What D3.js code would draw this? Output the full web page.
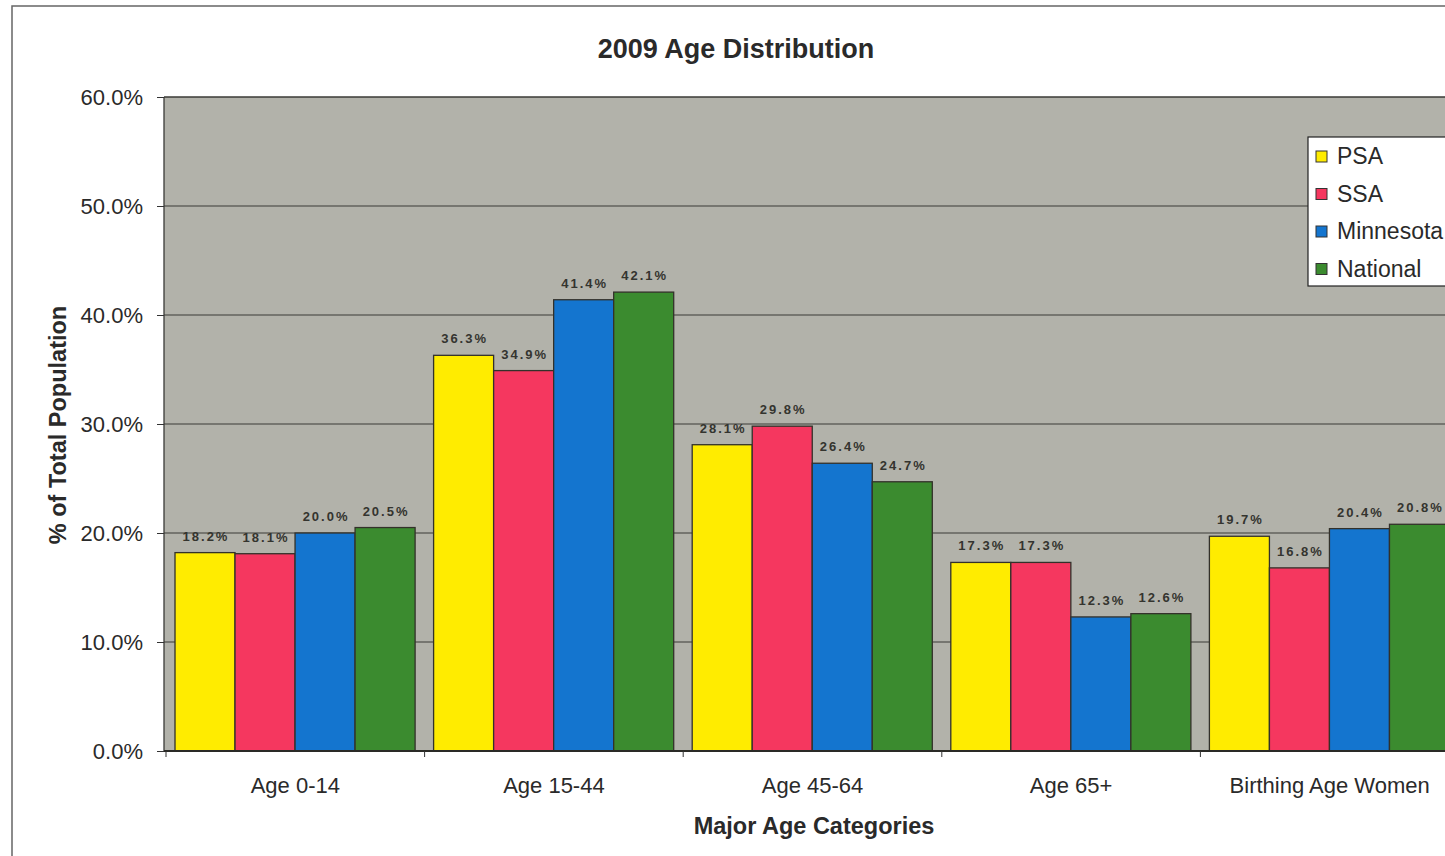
<!DOCTYPE html>
<html>
<head>
<meta charset="utf-8">
<script src="https://cdn.jsdelivr.net/npm/d3@7"></script>
<style>
  body { margin: 0; background: #fff; }
  text { font-family: 'Liberation Sans', Arial, sans-serif; }
</style>
</head>
<body>
<div class="svg"></div>
<script>
const width = 1445
const height = 856

// chart data
const categories = ['Age 0-14', 'Age 15-44', 'Age 45-64', 'Age 65+', 'Birthing Age Women']
const seriesNames = ['PSA', 'SSA', 'Minnesota', 'National']
const psa = [18.2, 36.3, 28.1, 17.3, 19.7]
const ssa = [18.1, 34.9, 29.8, 17.3, 16.8]
const minnesota = [20.0, 41.4, 26.4, 12.3, 20.4]
const national = [20.5, 42.1, 24.7, 12.6, 20.8]
const yTicks = [0, 10, 20, 30, 40, 50, 60]

const colors = ['#ffec00', '#f5375f', '#1475cf', '#3b8b2f']
const series = [psa, ssa, minnesota, national]

const plot = { left: 164, top: 97, right: 1459, bottom: 751 }

const svg = d3
  .select('.svg')
  .append('svg')
  .attr('width', width)
  .attr('height', height)

// outer frame
svg
  .append('rect')
  .attr('x', 12)
  .attr('y', 6)
  .attr('width', width + 20)
  .attr('height', height + 20)
  .attr('fill', '#fff')
  .attr('stroke', '#666')
  .attr('stroke-width', 1.5)

const x0 = d3
  .scaleBand()
  .domain(categories)
  .range([plot.left + 2, plot.right])

const x1 = d3
  .scaleBand()
  .domain(seriesNames)
  .range([9, x0.bandwidth() - 9.5])

const y = d3
  .scaleLinear()
  .domain([0, 60])
  .range([plot.bottom, plot.top])

// plot background
svg
  .append('rect')
  .attr('x', plot.left)
  .attr('y', plot.top)
  .attr('width', plot.right - plot.left)
  .attr('height', plot.bottom - plot.top)
  .attr('fill', '#b2b2aa')

// gridlines
svg
  .append('g')
  .selectAll('line')
  .data(yTicks.slice(1))
  .enter()
  .append('line')
  .attr('x1', plot.left)
  .attr('x2', plot.right)
  .attr('y1', d => y(d))
  .attr('y2', d => y(d))
  .attr('stroke', '#3a3a36')
  .attr('stroke-width', d => (d === 60 ? 1.6 : 1.1))

// left border of plot
svg
  .append('line')
  .attr('x1', plot.left)
  .attr('x2', plot.left)
  .attr('y1', plot.top)
  .attr('y2', plot.bottom)
  .attr('stroke', '#3a3a36')
  .attr('stroke-width', 1.3)

// y axis
const yAxis = d3
  .axisLeft(y)
  .tickValues(yTicks)
  .tickSize(7)
  .tickPadding(14)
  .tickFormat(d => d.toFixed(1) + '%')

const yg = svg
  .append('g')
  .attr('transform', 'translate(' + plot.left + ', 0)')
  .call(yAxis)
yg.select('.domain').remove()
yg.selectAll('line').attr('stroke', '#333')
yg.selectAll('text')
  .attr('font-size', 22)
  .attr('fill', '#2a2a2a')
  .attr('font-family', "'Liberation Sans', Arial, sans-serif")

// bars
const groups = svg
  .append('g')
  .selectAll('g')
  .data(categories)
  .enter()
  .append('g')
  .attr('transform', d => 'translate(' + x0(d) + ', 0)')

groups
  .selectAll('rect')
  .data((d, i) => series.map((s, j) => ({ name: seriesNames[j], value: s[i], j })))
  .enter()
  .append('rect')
  .attr('x', d => x1(d.name))
  .attr('y', d => y(d.value))
  .attr('width', x1.bandwidth())
  .attr('height', d => y(0) - y(d.value))
  .attr('fill', d => colors[d.j])
  .attr('stroke', '#33312a')
  .attr('stroke-width', 1.3)

groups
  .selectAll('text')
  .data((d, i) => series.map((s, j) => ({ name: seriesNames[j], value: s[i] })))
  .enter()
  .append('text')
  .attr('x', d => x1(d.name) + x1.bandwidth() / 2 + 1)
  .attr('y', d => y(d.value) - 12)
  .attr('text-anchor', 'middle')
  .attr('font-family', "'DejaVu Sans', Verdana, sans-serif")
  .attr('font-weight', 'bold')
  .attr('font-size', 13)
  .attr('letter-spacing', 2)
  .attr('fill', '#34342f')
  .text(d => d.value.toFixed(1) + '%')

// x axis
const xAxis = d3.axisBottom(x0).tickSize(0).tickPadding(26)
const xg = svg
  .append('g')
  .attr('transform', 'translate(0, ' + plot.bottom + ')')
  .call(xAxis)
xg.select('.domain').remove()
xg.selectAll('text')
  .attr('font-size', 22)
  .attr('fill', '#2a2a2a')
  .attr('font-family', "'Liberation Sans', Arial, sans-serif")

svg
  .append('line')
  .attr('x1', plot.left)
  .attr('x2', plot.right)
  .attr('y1', plot.bottom)
  .attr('y2', plot.bottom)
  .attr('stroke', '#2a2a26')
  .attr('stroke-width', 1.8)

// category separator ticks
svg
  .append('g')
  .selectAll('line')
  .data(categories)
  .enter()
  .append('line')
  .attr('x1', d => x0(d))
  .attr('x2', d => x0(d))
  .attr('y1', plot.bottom)
  .attr('y2', plot.bottom + 6)
  .attr('stroke', '#333')

// titles
svg
  .append('text')
  .attr('x', 736)
  .attr('y', 58)
  .attr('text-anchor', 'middle')
  .attr('font-weight', 'bold')
  .attr('font-size', 27)
  .attr('fill', '#2a2a2a')
  .text('2009 Age Distribution')

svg
  .append('text')
  .attr('x', 814)
  .attr('y', 834)
  .attr('text-anchor', 'middle')
  .attr('font-weight', 'bold')
  .attr('font-size', 23.5)
  .attr('fill', '#2a2a2a')
  .text('Major Age Categories')

svg
  .append('text')
  .attr('transform', 'translate(66, 425) rotate(-90)')
  .attr('text-anchor', 'middle')
  .attr('font-weight', 'bold')
  .attr('font-size', 23.5)
  .attr('fill', '#2a2a2a')
  .text('% of Total Population')

// legend
const legend = svg.append('g').attr('transform', 'translate(1308, 137)')
legend
  .append('rect')
  .attr('width', 160)
  .attr('height', 149)
  .attr('fill', '#fff')
  .attr('stroke', '#222')
  .attr('stroke-width', 1.2)

const items = legend
  .selectAll('g')
  .data(seriesNames)
  .enter()
  .append('g')
  .attr('transform', (d, i) => 'translate(0, ' + (19 + i * 37.5) + ')')

items
  .append('rect')
  .attr('x', 8)
  .attr('y', -5)
  .attr('width', 11)
  .attr('height', 11)
  .attr('fill', (d, i) => colors[i])
  .attr('stroke', '#333')

items
  .append('text')
  .attr('x', 29)
  .attr('y', 8)
  .attr('font-size', 23)
  .attr('fill', '#2a2a2a')
  .text(d => d)
</script>
</body>
</html>
